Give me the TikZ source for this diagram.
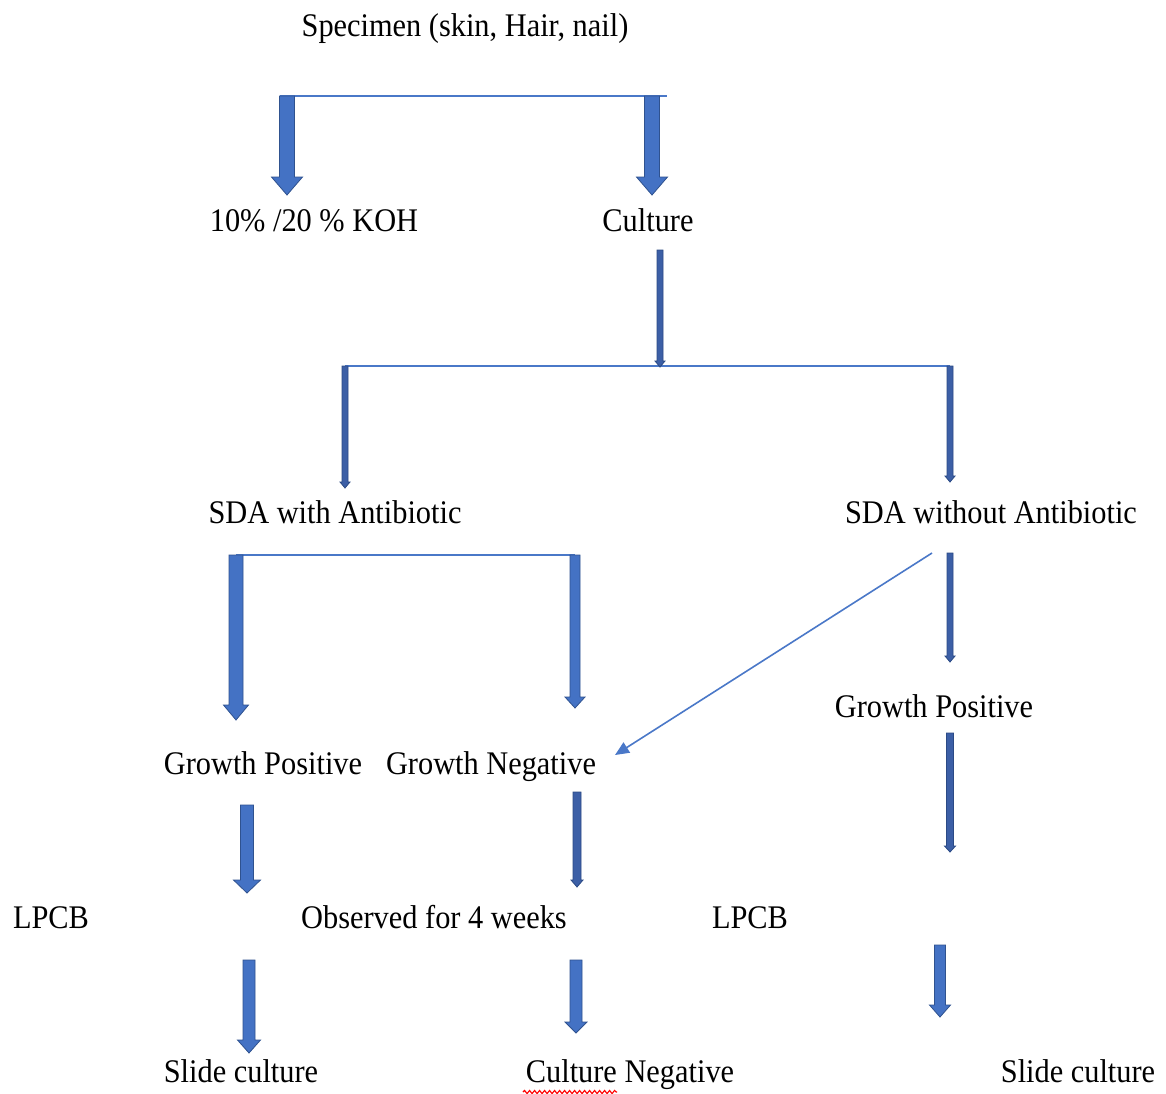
\documentclass[tikz,border=0pt]{standalone}
\usepackage{fontspec}
\setmainfont{Liberation Serif}[FakeStretch=0.92]
\usetikzlibrary{calc,arrows.meta,decorations.pathmorphing}
\definecolor{bfill}{HTML}{4472C4}
\definecolor{bedge}{HTML}{2F528F}
\definecolor{tfill}{HTML}{3C5FA6}
\definecolor{tedge}{HTML}{2B4A85}
\definecolor{lline}{HTML}{4A78C8}
\newcommand\barrow[6]{%
  \path[#1] let \p1=(#2), \p2=(#3) in
    (\x1-#4,\y1) -- (\x1+#4,\y1) -- (\x1+#4,\y2+#6) -- (\x1+#5,\y2+#6)
    -- (\x1,\y2) -- (\x1-#5,\y2+#6) -- (\x1-#4,\y2+#6) -- cycle;}
\tikzset{
  blockar/.style={fill=bfill,draw=bedge,line width=0.8pt,line join=miter},
  thinar/.style={fill=tfill,draw=tedge,line width=0.8pt,line join=miter},
  branch/.style={draw=lline,line width=2.2pt},
  diag/.style={draw=lline,line width=1.6pt,-{Triangle[length=14pt,width=12pt]}},
  lbl/.style={inner sep=0pt,anchor=base,font=\fontsize{33}{38}\selectfont},
  spell/.style={draw=red,line width=1.1pt,decorate,decoration={snake,amplitude=1.6pt,segment length=5pt}}
}
\begin{document}
\begin{tikzpicture}[x=1pt,y=-1pt]
\useasboundingbox[fill=white] (0,0) rectangle (1166,1093);
% labels
\node[lbl] (spec) at (465,36) {Specimen (skin, Hair, nail)};
\node[lbl] (koh) at (314,231) {10\% /20 \% KOH};
\node[lbl] (cult) at (648,231) {Culture};
\node[lbl] (sdaw) at (335,523) {SDA with Antibiotic};
\node[lbl] (sdawo) at (991,523) {SDA without Antibiotic};
\node[lbl] (gpr) at (934,717) {Growth Positive};
\node[lbl] (gpl) at (263,774) {Growth Positive};
\node[lbl] (gn) at (491,774) {Growth Negative};
\node[lbl] (lpcbl) at (51,928) {LPCB};
\node[lbl] (obs) at (434,928) {Observed for 4 weeks};
\node[lbl] (lpcbr) at (750,928) {LPCB};
\node[lbl] (slidel) at (241,1082) {Slide culture};
\node[lbl] (cneg) at (630,1082) {Culture Negative};
\node[lbl] (slider) at (1078,1082) {Slide culture};
% coordinates
\coordinate (t1) at (280,96);  \coordinate (t2) at (667,96);
\coordinate (a1s) at (287,96); \coordinate (a1e) at (287,195);
\coordinate (a2s) at (652,96); \coordinate (a2e) at (652,195);
\coordinate (a3s) at (660,250); \coordinate (a3e) at (660,367);
\coordinate (m1) at (345,366); \coordinate (m2) at (950,366);
\coordinate (a4e) at (345,488); \coordinate (a5e) at (950,482);
\coordinate (b1) at (236,555); \coordinate (b2) at (575,555);
\coordinate (a6e) at (236,720); \coordinate (a7e) at (575,708);
\coordinate (a8s) at (950,553); \coordinate (a8e) at (950,662);
\coordinate (ds) at (932,553); \coordinate (de) at (615,755);
\coordinate (a9s) at (247,805); \coordinate (a9e) at (247,893);
\coordinate (a10s) at (577,792); \coordinate (a10e) at (577,887);
\coordinate (a11s) at (950,733); \coordinate (a11e) at (950,852);
\coordinate (a12s) at (249,960); \coordinate (a12e) at (249,1053);
\coordinate (a13s) at (576,960); \coordinate (a13e) at (576,1033);
\coordinate (a14s) at (940,945); \coordinate (a14e) at (940,1017);
\coordinate (w1) at (523,1092); \coordinate (w2) at (617,1092);
% branch lines
\draw[branch] (t1) -- (t2);
\draw[branch] (m1) -- (m2);
\draw[branch] (b1) -- (b2);
% arrows
\barrow{blockar}{a1s}{a1e}{7.5pt}{15.5pt}{18pt}
\barrow{blockar}{a2s}{a2e}{7.5pt}{15.5pt}{18pt}
\barrow{thinar}{a3s}{a3e}{3pt}{5pt}{6pt}
\barrow{thinar}{m1}{a4e}{3pt}{5pt}{6pt}
\barrow{thinar}{m2}{a5e}{3pt}{5pt}{6pt}
\barrow{blockar}{b1}{a6e}{7pt}{12.5pt}{15pt}
\barrow{blockar}{b2}{a7e}{5pt}{10pt}{11pt}
\barrow{thinar}{a8s}{a8e}{3pt}{5pt}{6pt}
\draw[diag] (ds) -- (de);
\barrow{blockar}{a9s}{a9e}{6.5pt}{13.5pt}{13pt}
\barrow{thinar}{a10s}{a10e}{4pt}{6pt}{7pt}
\barrow{thinar}{a11s}{a11e}{3.5pt}{5.5pt}{6pt}
\barrow{blockar}{a12s}{a12e}{6pt}{11.5pt}{13pt}
\barrow{blockar}{a13s}{a13e}{6pt}{11pt}{11pt}
\barrow{blockar}{a14s}{a14e}{5.5pt}{10.5pt}{12pt}
% spell-check underline
\draw[spell] (w1) -- (w2);
\end{tikzpicture}
\end{document}
